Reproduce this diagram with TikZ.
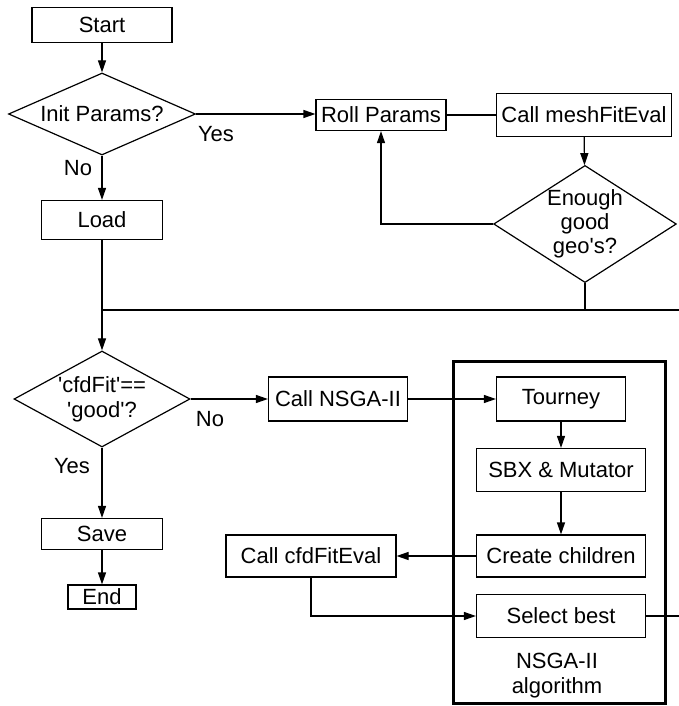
\documentclass[tikz,border=0pt]{standalone}
\usepackage{fontspec}
\setmainfont{Liberation Sans}
\usetikzlibrary{shapes.geometric,arrows.meta}
\begin{document}
\begin{tikzpicture}[x=0.5pt,y=-0.5pt,
  font=\fontsize{11}{12.5}\selectfont, line width=0.6pt,
  box/.style={draw, inner sep=1pt, align=center},
  decision/.style={draw, diamond, inner sep=0pt, align=center},
  arr/.style={-{Triangle[length=6pt,width=4pt]}}]

  \useasboundingbox (0,0) rectangle (679,706);

  \node[draw, line width=1.5pt, minimum width=106pt, minimum height=171pt] (nsgaframe) at (559,532) {};
  \node[align=center] (nsgalabel) at (557,676) {NSGA-II\\algorithm};

  \node[box, minimum width=70pt, minimum height=17.5pt] (start) at (102,25) {Start};
  \node[decision, aspect=2.28, minimum width=93.5pt, minimum height=41pt] (init) at (102,114) {Init Params?};
  \node[box, minimum width=60.5pt, minimum height=19.5pt] (load) at (102,220) {Load};
  \node[box, minimum width=65pt, minimum height=15.5pt] (roll) at (381,115) {Roll Params};
  \node[box, minimum width=87.5pt, minimum height=21.5pt] (mesh) at (584,115) {Call meshFitEval};
  \node[decision, aspect=1.56, minimum width=90pt, minimum height=57.5pt, font=\fontsize{11}{12}\selectfont] (enough) at (585,224) {Enough\\good\\geo\textquotesingle s?};

  \node[decision, aspect=1.83, minimum width=88pt, minimum height=48pt] (cfd) at (102,399) {\textquotesingle cfdFit\textquotesingle==\\\textquotesingle good\textquotesingle?};
  \node[box, minimum width=69.5pt, minimum height=22pt] (nsga) at (338,399) {Call NSGA-II};
  \node[box, minimum width=64.5pt, minimum height=22pt] (tourney) at (561,399) {Tourney};
  \node[box, minimum width=84.5pt, minimum height=21.5pt] (sbx) at (561,470) {SBX \& Mutator};
  \node[box, minimum width=84.5pt, minimum height=21pt] (create) at (561,556) {Create children};
  \node[box, minimum width=85pt, minimum height=21pt] (cfdeval) at (311,556) {Call cfdFitEval};
  \node[box, minimum width=84.5pt, minimum height=21.5pt] (select) at (561,616) {Select best};
  \node[box, minimum width=60.5pt, minimum height=15.5pt] (save) at (102,534) {Save};
  \node[box, minimum width=34pt, minimum height=12pt] (stop) at (102,597) {End};

  \node (yes1) at (216,134) {Yes};
  \node (no1) at (78,168) {No};
  \node (no2) at (210,419) {No};
  \node (yes2) at (72,466) {Yes};

  \coordinate (bus) at (102,310);
  \coordinate (busend) at (679,310);
  \coordinate (selectend) at (679,616);

  \draw[arr] (start) -- (init);
  \draw[arr] (init.east) -- (init.east -| roll.west);
  \draw[arr] (init) -- (load);
  \draw (roll) -- (mesh);
  \draw[arr] (mesh) -- (enough);
  \draw[arr] (enough.west) -| (roll.south);
  \draw (load) -- (bus) -- (busend);
  \draw (enough) -- (enough.south |- bus);
  \draw[arr] (bus) -- (cfd);
  \draw[arr] (cfd) -- (nsga);
  \draw[arr] (nsga) -- (tourney);
  \draw[arr] (tourney) -- (sbx);
  \draw[arr] (sbx) -- (create);
  \draw[arr] (create) -- (cfdeval);
  \draw[arr] (cfdeval.south) |- (select.west);
  \draw (select) -- (selectend);
  \draw[arr] (cfd) -- (save);
  \draw[arr] (save) -- (stop);

\end{tikzpicture}
\end{document}
